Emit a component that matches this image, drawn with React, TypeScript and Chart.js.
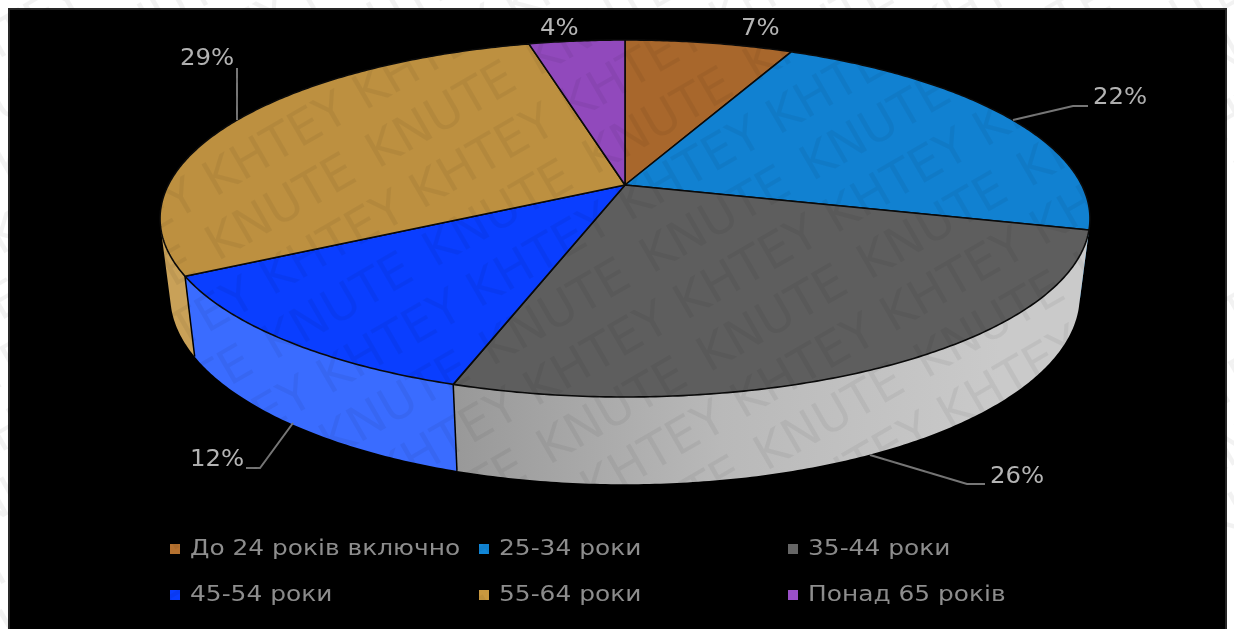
import React, { useEffect, useRef } from "react";
import { Chart, registerables } from "chart.js";

Chart.register(...registerables);

// Age groups and their shares, in percent.
const ageGroups = ["До 24 років включно", "25-34 роки", "35-44 роки", "45-54 роки", "55-64 роки", "Понад 65 років"];
const shares = [7, 22, 26, 12, 29, 4];
const topColors = ["#a8672c", "#1181d1", "#5e5e5e", "#0a3eff", "#bd9040", "#9149bc"];
const wallColors = ["#a8672c", "#1181d1", "#b0b0b0", "#3a6cff", "#c9a158", "#9149bc"];
const legendColors = ["#b5712f", "#1187d8", "#666666", "#0a3dff", "#c9983f", "#9a50c8"];
const watermarkWords = ["KHTEY", "KNUTE"];

// Perspective of the tilted disc, and how its lower rim follows from the upper one.
const DISC = { a: 456.7, b: 172.2, k: -0.1877 };
const RIM = { shrink: 0.978, stretch: 1.056, drop: 65 };

// Callouts: text anchor and leader polyline for each slice.
const callouts = [
  { x: 741, y: 29, line: [] as number[][] },
  { x: 1093, y: 98, line: [[1013, 120], [1073, 106], [1088, 106]] },
  { x: 990, y: 477, line: [[870, 455], [967, 484], [985, 484]] },
  { x: 190, y: 460, line: [[293, 423], [260, 468], [246, 468]] },
  { x: 180, y: 59, line: [[237, 120], [237, 68]] },
  { x: 540, y: 29, line: [] as number[][] },
];

// Legend grid, filled row by row.
const legendCols = [170, 479, 788];
const legendRows = [549, 595];

const FONT = '"DejaVu Sans", sans-serif';

type Pt = [number, number];

function project(cx: number, cy: number, angle: number): Pt {
  const X = Math.cos(angle);
  const Y = Math.sin(angle);
  const w = 1 + DISC.k * Y;
  return [cx + (DISC.a * X) / w, cy + (DISC.b * Y) / w];
}

function lower(cx: number, p: Pt): Pt {
  return [cx + (p[0] - cx) * RIM.shrink, p[1] * RIM.stretch + RIM.drop];
}

function rimPoints(cx: number, cy: number, start: number, end: number) {
  const steps = Math.max(2, Math.ceil((end - start) / 0.01));
  const pts: Pt[] = [];
  for (let i = 0; i <= steps; i++) pts.push(project(cx, cy, start + ((end - start) * i) / steps));
  return pts;
}

// Adds a quad to the current path with a fixed winding, so overlapping quads merge without seams.
function addQuad(ctx: CanvasRenderingContext2D, quad: Pt[]) {
  let area = 0;
  quad.forEach((p, i) => {
    const q = quad[(i + 1) % 4];
    area += p[0] * q[1] - q[0] * p[1];
  });
  const ordered = area < 0 ? [...quad].reverse() : quad;
  ordered.forEach((p, i) => (i ? ctx.lineTo(p[0], p[1]) : ctx.moveTo(p[0], p[1])));
  ctx.closePath();
}

function stretchedText(ctx: CanvasRenderingContext2D, text: string, x: number, y: number, sx: number) {
  ctx.save();
  ctx.translate(x, y);
  ctx.scale(sx, 1);
  ctx.fillText(text, 0, 0);
  ctx.restore();
}

// Draws the slices as a perspective disc with a visible side wall.
const tiltedDisc = {
  id: "tiltedDisc",
  beforeDatasetDraw(chart: any, args: any) {
    const ctx: CanvasRenderingContext2D = chart.ctx;
    const arcs = args.meta.data;
    ctx.save();
    ctx.lineJoin = "round";

    // Side walls first, so the top face covers their hidden part.
    arcs.forEach((arc: any, i: number) => {
      const pts = rimPoints(arc.x, arc.y, arc.startAngle, arc.endAngle);
      let paint: string | CanvasGradient = wallColors[i];
      if (i === 2) {
        const g = ctx.createLinearGradient(442, 0, 1000, 0);
        g.addColorStop(0, "#979797");
        g.addColorStop(0.5, "#b9b9b9");
        g.addColorStop(1, "#cacaca");
        paint = g;
      }
      ctx.fillStyle = paint;
      ctx.beginPath();
      for (let j = 1; j < pts.length; j++) {
        const a = pts[j - 1];
        const b = pts[j];
        addQuad(ctx, [a, b, lower(arc.x, b), lower(arc.x, a)]);
      }
      ctx.fill("nonzero");
    });

    // Vertical seams between the visible walls.
    ctx.strokeStyle = "#000";
    ctx.lineWidth = 1.5;
    arcs.forEach((arc: any) => {
      const p = project(arc.x, arc.y, arc.startAngle);
      if (p[1] < arc.y + 60) return;
      const q = lower(arc.x, p);
      ctx.beginPath();
      ctx.moveTo(p[0], p[1]);
      ctx.lineTo(q[0], q[1]);
      ctx.stroke();
    });

    // Top face.
    arcs.forEach((arc: any, i: number) => {
      const pts = rimPoints(arc.x, arc.y, arc.startAngle, arc.endAngle);
      ctx.beginPath();
      ctx.moveTo(arc.x, arc.y);
      pts.forEach((p) => ctx.lineTo(p[0], p[1]));
      ctx.closePath();
      ctx.fillStyle = topColors[i];
      ctx.fill();
      ctx.lineWidth = 1.6;
      ctx.strokeStyle = "#0a0a0a";
      ctx.stroke();
    });
    ctx.restore();
    return false;
  },
};

// Panel, callouts, legend and the diagonal watermark.
const decorations = {
  id: "decorations",
  beforeDraw(chart: any) {
    const ctx: CanvasRenderingContext2D = chart.ctx;
    ctx.save();
    ctx.fillStyle = "#ffffff";
    ctx.fillRect(0, 0, chart.width, chart.height);
    ctx.fillStyle = "#000000";
    ctx.fillRect(8, 8, 1219, chart.height - 8);
    ctx.strokeStyle = "#262626";
    ctx.lineWidth = 2;
    ctx.strokeRect(9, 9, 1217, chart.height);
    ctx.restore();
  },
  afterDraw(chart: any) {
    const ctx: CanvasRenderingContext2D = chart.ctx;
    const values: number[] = chart.data.datasets[0].data;
    const labels: string[] = chart.data.labels;
    ctx.save();

    ctx.strokeStyle = "#767676";
    ctx.lineWidth = 2;
    callouts.forEach((c) => {
      if (!c.line.length) return;
      ctx.beginPath();
      c.line.forEach((p, j) => (j ? ctx.lineTo(p[0], p[1]) : ctx.moveTo(p[0], p[1])));
      ctx.stroke();
    });

    ctx.fillStyle = "#b4b4b4";
    ctx.font = `23px ${FONT}`;
    ctx.textAlign = "left";
    ctx.textBaseline = "middle";
    callouts.forEach((c, i) => stretchedText(ctx, `${values[i]}%`, c.x, c.y, 1.06));

    ctx.font = `22px ${FONT}`;
    labels.forEach((label, i) => {
      const x = legendCols[i % 3];
      const y = legendRows[Math.floor(i / 3)];
      ctx.fillStyle = legendColors[i];
      ctx.fillRect(x, y - 5, 10, 10);
      ctx.fillStyle = "#8e8e8e";
      stretchedText(ctx, label, x + 20, y, 1.13);
    });

    // Watermark: dark translucent rows, so they only show over lighter areas.
    ctx.fillStyle = "rgba(0,0,0,0.05)";
    ctx.font = `48.5px ${FONT}`;
    ctx.textBaseline = "alphabetic";
    ctx.translate(202, 205);
    ctx.rotate((-30 * Math.PI) / 180);
    for (let row = -10; row <= 14; row++) {
      const even = ((row % 2) + 2) % 2 === 0;
      const pitch = even ? 173 : 185;
      const shift = even ? 15 : -15;
      for (let n = -7; n <= 11; n++) {
        ctx.fillText(even ? watermarkWords[0] : watermarkWords[1], shift + n * pitch, row * 57);
      }
    }
    ctx.restore();
  },
};

export default function App() {
  const ref = useRef<HTMLCanvasElement | null>(null);

  useEffect(() => {
    if (!ref.current) return;
    const chart = new Chart(ref.current, {
      type: "pie",
      data: {
        labels: ageGroups,
        datasets: [{ data: shares, backgroundColor: topColors, borderWidth: 0 }],
      },
      options: {
        animation: false,
        responsive: false,
        layout: { padding: { left: 16, bottom: 259 } },
        plugins: { legend: { display: false }, tooltip: { enabled: false } },
      },
      plugins: [tiltedDisc, decorations],
    } as any);
    return () => chart.destroy();
  }, []);

  return (
    <div style={{ position: "fixed", left: 0, top: 0, width: 1234, height: 629 }}>
      <canvas ref={ref} width={1234} height={629} style={{ display: "block" }} />
    </div>
  );
}
